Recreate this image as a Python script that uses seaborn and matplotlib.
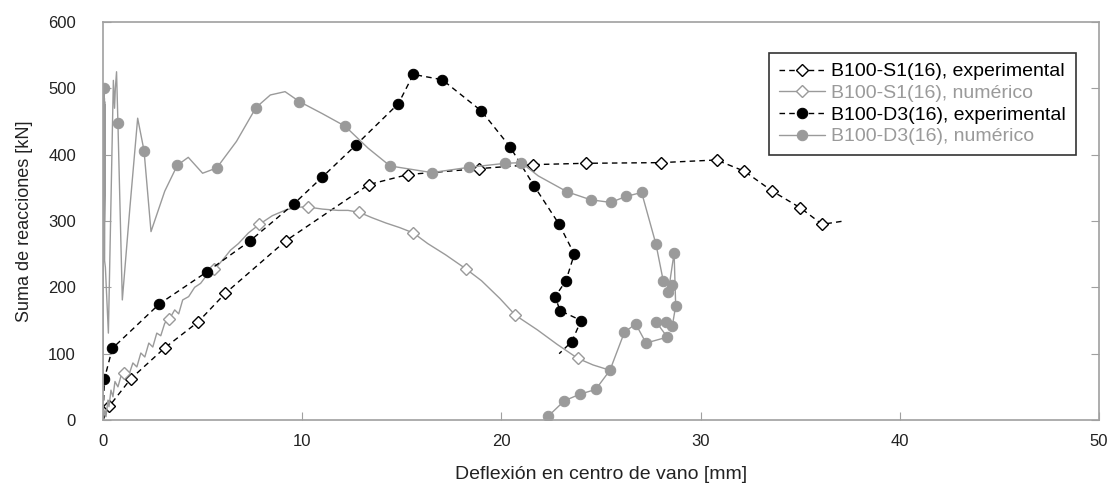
import matplotlib
matplotlib.use("Agg")
import seaborn as sns
import matplotlib.pyplot as plt

# B100-S1(16), experimental
s1_exp_x = [0.0, 0.32, 1.39, 3.11, 4.78, 6.14, 9.17, 13.35, 15.30, 18.88, 21.59,
            24.23, 28.0, 30.8, 32.2, 33.6, 35.0, 36.1, 37.2]
s1_exp_y = [0, 21, 62, 109, 148, 191, 270, 355, 370, 379, 385,
            387, 388, 392, 375, 345, 320, 295, 300]

# B100-S1(16), numerico
s1_num_x = [0.0, 0.1, 0.15, 0.25, 0.3, 0.4, 0.5, 0.6, 0.75, 0.9, 1.05, 1.3, 1.5, 1.7,
            1.9, 2.1, 2.3, 2.5, 2.7, 2.9, 3.1, 3.33, 3.6, 3.8, 4.0, 4.3, 4.6, 4.9,
            5.2, 5.59, 6.0, 6.4, 6.8, 7.3, 7.85, 8.5, 9.2, 9.8, 10.31, 11.0, 11.8,
            12.3, 12.87, 13.5, 14.2, 14.9, 15.58, 16.3, 17.2, 18.21, 19.0, 19.93,
            20.7, 21.8, 22.8, 23.83, 24.6, 25.45]
s1_num_y = [0, 15, 5, 30, 20, 45, 35, 58, 50, 66, 71, 68, 86, 80,
            101, 95, 116, 110, 131, 127, 146, 152, 166, 160, 181, 186, 200, 206,
            218, 227, 241, 256, 266, 282, 295, 308, 317, 321, 321, 318, 316,
            316, 313, 305, 297, 290, 282, 266, 249, 228, 210, 183,
            158, 136, 114, 93, 83, 75]

# B100-D3(16), experimental
d3_exp_x = [0.0, 0.07, 0.47, 2.83, 5.2, 7.38, 9.59, 11.0, 12.68, 14.83, 15.58,
            17.03, 18.99, 20.43, 21.64, 22.9, 23.66, 23.24, 22.7, 22.94, 24.0,
            23.53, 22.9]
d3_exp_y = [0, 62, 108, 175, 223, 270, 326, 366, 414, 477, 521,
            513, 466, 412, 353, 295, 250, 210, 186, 165, 150,
            118, 100]

# B100-D3(16), numerico
d3_num_x = [0.0, 0.03, 0.02, 0.05, 0.03, 0.06, 0.04, 0.07, 0.05, 0.08, 0.06, 0.09,
            0.07, 0.1, 0.08, 0.12, 0.27, 0.52, 0.58,
            0.62, 0.68, 0.75, 0.97, 1.35, 1.74, 2.06, 2.41, 3.1, 3.73, 4.28,
            5.0, 5.71, 6.7, 7.68, 8.4, 9.14, 9.86, 11.0, 12.15, 13.3, 14.41,
            16.5, 18.39, 20.2, 21.0, 21.85, 23.3, 24.48, 25.49, 26.25, 27.04,
            27.76, 28.13, 28.55, 28.38, 28.67, 28.75, 28.58, 28.25, 27.76,
            28.33, 27.26, 26.74, 26.17, 25.45, 24.73, 23.95, 23.16, 22.36, 22.2]
d3_num_y = [0, 500, 250, 495, 270, 490, 255, 485, 290, 480, 260, 470,
            300, 475, 240, 230, 131, 512, 470,
            500, 525, 447, 181, 320, 455, 406, 284, 345, 384, 396,
            372, 380, 420, 471, 490, 495, 480, 462, 443, 410, 383,
            373, 381, 387, 388, 368, 344, 332, 328, 337, 343,
            265, 209, 204, 193, 252, 172, 142, 148, 148,
            125, 116, 145, 132, 75, 46, 39, 29, 6, 0]

s1_num_marks = [10, 21, 29, 34, 38, 42, 46, 49, 52, 55]
d3_num_marks = [1, 21, 25, 28, 31, 33, 36, 38, 40, 41, 42, 43, 44, 46, 47, 48,
                49, 50, 51, 52, 53, 54, 55, 56, 57, 58, 59, 60, 61, 62, 63, 64,
                65, 66, 67, 68]

legend_labels = ["B100-S1(16), experimental", "B100-S1(16), numérico",
                 "B100-D3(16), experimental", "B100-D3(16), numérico"]

sns.set_style("white")
plt.rcParams["font.family"] = ["Liberation Sans", "DejaVu Sans"]

gray = "#9a9a9a"
fig = plt.figure(figsize=(11.12, 4.86), dpi=100)
ax = fig.add_axes([103 / 1112, 1 - 420 / 486, 996 / 1112, 398 / 486])

sns.lineplot(x=s1_exp_x, y=s1_exp_y, sort=False, estimator=None, ax=ax,
             color="black", lw=1.0, linestyle=(0, (4, 3)), marker="D", ms=6.5,
             mfc="white", mec="black", mew=1.0, markevery=list(range(1, 18)),
             label=legend_labels[0])
sns.lineplot(x=s1_num_x, y=s1_num_y, sort=False, estimator=None, ax=ax,
             color=gray, lw=1.0, marker="D", ms=6.5, mfc="white", mec=gray,
             mew=1.0, markevery=s1_num_marks, label=legend_labels[1])
sns.lineplot(x=d3_exp_x, y=d3_exp_y, sort=False, estimator=None, ax=ax,
             color="black", lw=1.0, linestyle=(0, (4, 3)), marker="o", ms=7.5,
             mfc="black", mec="black", markevery=list(range(1, 22)),
             label=legend_labels[2])
sns.lineplot(x=d3_num_x, y=d3_num_y, sort=False, estimator=None, ax=ax,
             color=gray, lw=1.0, marker="o", ms=7.5, mfc=gray, mec=gray,
             markevery=d3_num_marks, label=legend_labels[3])

ax.set_xlim(0, 50)
ax.set_ylim(0, 600)
ax.set_xticks(range(0, 51, 10))
ax.set_yticks(range(0, 601, 100))
for s in ax.spines.values():
    s.set_color("#a0a0a0")
    s.set_linewidth(1.2)
ax.tick_params(axis="both", direction="in", length=6, color="#a0a0a0",
               labelsize=12, labelcolor="#222222", right=True, left=True,
               bottom=True, pad=10)
ax.tick_params(axis="y", pad=19.5)
ax.set_xlabel("Deflexión en centro de vano [mm]", fontsize=14, color="#222222",
              labelpad=12)
ax.set_ylabel("Suma de reacciones [kN]", fontsize=13, color="#222222",
              labelpad=11)

leg = ax.legend(loc="upper left", bbox_to_anchor=(666 / 996, 1 - 31 / 398),
                frameon=True, fancybox=False, edgecolor="black", fontsize=14,
                handlelength=2.4, handletextpad=0.3, borderpad=0.5,
                labelspacing=0.21, borderaxespad=0)
leg.get_frame().set_linewidth(1.2)
for t, c in zip(leg.get_texts(), ["black", gray, "black", gray]):
    t.set_color(c)

fig.savefig("out.png", dpi=100)
